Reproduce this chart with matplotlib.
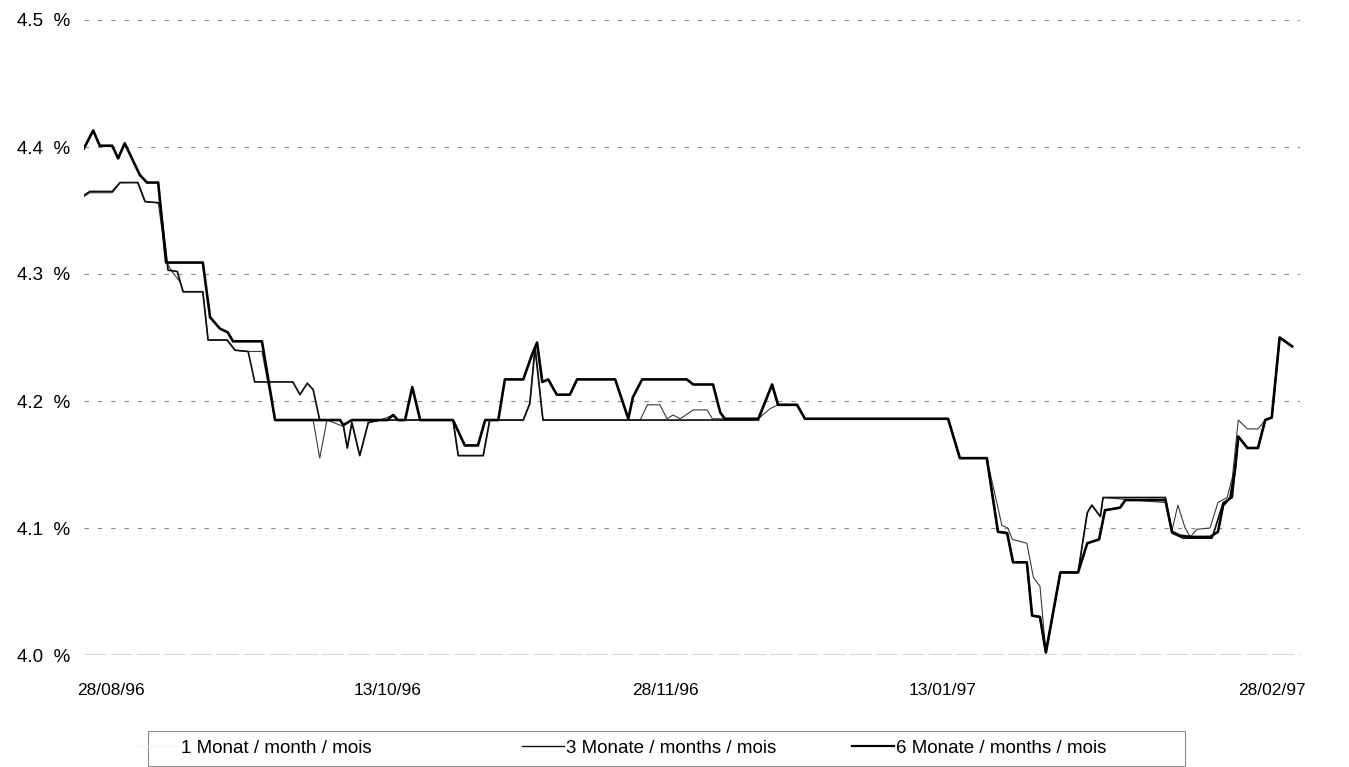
import matplotlib
matplotlib.use("Agg")
import matplotlib.pyplot as plt
from matplotlib.patches import Rectangle

plt.rcParams['font.family'] = ['Liberation Sans', 'DejaVu Sans']

# x: calendar days since 28/08/96 ; y: interest rate in %
m1_x = [0, 0.9, 4.3, 5.5, 8.2, 9.3, 11.3, 12.6, 13.4, 14.6, 15.1, 18.1, 18.9, 21.8, 23.0, 25.0, 27.1, 29.1,
        34.9, 35.9, 37.0, 39.5, 40.1, 40.8, 42.0, 43.3, 45.1, 47.1, 47.8, 56.2, 57.0, 60.8, 61.8, 66.9,
        67.9, 68.7, 69.9, 84.7, 85.8, 87.7, 88.8, 89.7, 90.8, 92.8, 94.9, 95.7, 102.7, 104.5, 105.7,
        108.6, 109.8, 131.6, 133.4, 137.5, 139.8, 140.7, 141.4, 143.6, 144.6, 145.6, 146.5, 148.7,
        151.4, 152.8, 153.5, 154.8, 155.2, 164.7, 165.7, 166.6, 167.7, 168.5, 169.5, 171.5, 172.7,
        174.1, 174.9, 175.8, 177.2, 178.8, 179.9, 180.9, 182.1, 184.0]
m1_y = [4.361, 4.364, 4.364, 4.372, 4.372, 4.357, 4.356, 4.309, 4.302, 4.294, 4.286, 4.286, 4.248, 4.248,
        4.240, 4.239, 4.239, 4.185, 4.185, 4.155, 4.185, 4.180, 4.163, 4.183, 4.157, 4.183, 4.185,
        4.189, 4.185, 4.185, 4.157, 4.157, 4.185, 4.185, 4.198, 4.242, 4.185, 4.185, 4.197, 4.197,
        4.186, 4.189, 4.186, 4.193, 4.193, 4.186, 4.186, 4.194, 4.197, 4.197, 4.186, 4.186, 4.155,
        4.155, 4.102, 4.100, 4.091, 4.088, 4.061, 4.054, 4.002, 4.065, 4.065, 4.112, 4.118, 4.109,
        4.124, 4.120, 4.098, 4.118, 4.100, 4.093, 4.099, 4.100, 4.120, 4.124, 4.140, 4.185, 4.178,
        4.178, 4.185, 4.187, 4.250, 4.243]

m3_x = [0, 0.9, 4.3, 5.5, 8.2, 9.3, 11.6, 12.8, 14.2, 15.1, 18.1, 18.9, 21.8, 23.0, 25.0, 26.0, 31.8,
        32.9, 34.0, 34.9, 35.9, 39.0, 39.5, 40.1, 40.8, 42.0, 43.3, 45.1, 56.2, 57.0, 60.8, 61.8, 66.9,
        67.9, 68.7, 69.9, 102.7, 104.8, 105.7, 108.6, 109.8, 131.6, 133.4, 137.5, 139.2, 140.6, 141.5,
        143.6, 144.4, 145.6, 146.5, 148.7, 151.4, 152.8, 153.5, 154.8, 155.2, 164.7, 165.7, 167.4,
        171.8, 173.5, 174.9, 175.8, 177.2, 178.8, 179.9, 180.9, 182.1, 184.0]
m3_y = [4.362, 4.365, 4.365, 4.372, 4.372, 4.357, 4.356, 4.303, 4.302, 4.286, 4.286, 4.248, 4.248,
        4.240, 4.239, 4.215, 4.215, 4.205, 4.214, 4.209, 4.185, 4.185, 4.181, 4.163, 4.183, 4.157,
        4.183, 4.185, 4.185, 4.157, 4.157, 4.185, 4.185, 4.198, 4.242, 4.185, 4.185, 4.213, 4.197,
        4.197, 4.186, 4.186, 4.155, 4.155, 4.097, 4.096, 4.073, 4.073, 4.031, 4.030, 4.002, 4.065,
        4.065, 4.112, 4.118, 4.109, 4.124, 4.124, 4.096, 4.092, 4.092, 4.120, 4.124, 4.172, 4.163,
        4.163, 4.185, 4.187, 4.250, 4.243]

m6_x = [0, 1.4, 2.4, 4.3, 5.2, 6.2, 8.5, 9.6, 11.3, 12.5, 18.1, 19.2, 20.7, 21.9, 22.7, 27.1, 29.1,
        39.0, 39.5, 40.8, 46.2, 47.1, 47.8, 48.9, 50.0, 51.2, 56.2, 58.0, 60.0, 61.1, 63.1, 64.1,
        66.9, 68.2, 69.0, 69.8, 70.7, 72.0, 74.0, 75.1, 80.9, 82.9, 83.6, 85.0, 91.8, 92.8, 95.8,
        96.9, 97.6, 102.7, 104.8, 105.7, 108.6, 109.8, 131.6, 133.4, 137.5, 139.2, 140.6, 141.5,
        143.6, 144.4, 145.6, 146.5, 148.7, 151.4, 152.8, 154.6, 155.5, 157.8, 158.6, 164.7, 165.7,
        166.9, 168.5, 171.5, 172.7, 173.5, 174.6, 175.3, 175.8, 177.2, 178.8, 179.9, 180.9, 182.1,
        184.0]
m6_y = [4.399, 4.413, 4.401, 4.401, 4.391, 4.403, 4.378, 4.372, 4.372, 4.309, 4.309, 4.266, 4.257,
        4.254, 4.247, 4.247, 4.185, 4.185, 4.181, 4.185, 4.185, 4.189, 4.185, 4.185, 4.211, 4.185,
        4.185, 4.165, 4.165, 4.185, 4.185, 4.217, 4.217, 4.236, 4.246, 4.215, 4.217, 4.205, 4.205,
        4.217, 4.217, 4.186, 4.203, 4.217, 4.217, 4.213, 4.213, 4.191, 4.186, 4.186, 4.213, 4.197,
        4.197, 4.186, 4.186, 4.155, 4.155, 4.097, 4.096, 4.073, 4.073, 4.031, 4.030, 4.002, 4.065,
        4.065, 4.088, 4.091, 4.114, 4.116, 4.122, 4.122, 4.097, 4.094, 4.093, 4.093, 4.097, 4.118,
        4.124, 4.146, 4.172, 4.163, 4.163, 4.185, 4.187, 4.250, 4.243]

series_labels = ["1 Monat / month / mois", "3 Monate / months / mois", "6 Monate / months / mois"]
x_tick_pos = [4.1, 46.2, 88.5, 130.7, 181.0]
x_tick_labels = ["28/08/96", "13/10/96", "28/11/96", "13/01/97", "28/02/97"]
y_ticks = [4.0, 4.1, 4.2, 4.3, 4.4, 4.5]
y_tick_labels = ["4.0  %", "4.1  %", "4.2  %", "4.3  %", "4.4  %", "4.5  %"]

W, H = 1349, 767
fig = plt.figure(figsize=(W / 100, H / 100), dpi=100)
ax = fig.add_axes([84 / W, (H - 655) / H, (1300 - 84) / W, (655 - 20) / H])

ax.set_xlim(0, 185.2)
ax.set_ylim(4.0, 4.5)

for yv in y_ticks[1:]:
    ax.axhline(yv, color="#8a8a8a", lw=0.8, ls=(0, (4, 8)), zorder=1)
ax.axhline(4.0, color="#333333", lw=1.0, ls=(0, (16, 3)), zorder=1)

l1, = ax.plot(m1_x, m1_y, color="#3a3a3a", lw=0.8, label=series_labels[0], zorder=3)
l3, = ax.plot(m3_x, m3_y, color="#111111", lw=1.25, label=series_labels[1], zorder=4)
l6, = ax.plot(m6_x, m6_y, color="#000000", lw=1.9, label=series_labels[2], zorder=5)

for s in ax.spines.values():
    s.set_visible(False)

ax.set_yticks(y_ticks)
ax.set_yticklabels(y_tick_labels, fontsize=13.5)
ax.set_xticks(x_tick_pos)
ax.set_xticklabels(x_tick_labels, fontsize=12.5)
ax.tick_params(axis="y", length=0, pad=10)
ax.tick_params(axis="x", length=0, pad=20)

# legend: one entry per slot, inside a common frame
leg_y = (H - 748) / H
slots = [(137, l1), (522, l3), (852, l6)]
for i, (xpx, handle) in enumerate(slots):
    lg = fig.legend(handles=[handle], loc="center left", bbox_to_anchor=(xpx / W, leg_y),
                    frameon=False, fontsize=13.5, handlelength=2.25, handletextpad=0.12,
                    borderpad=0, borderaxespad=0)
    h = lg.legend_handles[0]
    if i == 0:
        h.set_color("#f6f6f6")
    elif i == 1:
        h.set_linewidth(1.0)
    else:
        h.set_linewidth(1.6)

fig.add_artist(Rectangle((148 / W, (H - 766) / H), (1185 - 148) / W, (766 - 731) / H,
                         transform=fig.transFigure, fill=False, edgecolor="#8a8a8a", lw=0.8))

fig.savefig("out.png", dpi=100)
